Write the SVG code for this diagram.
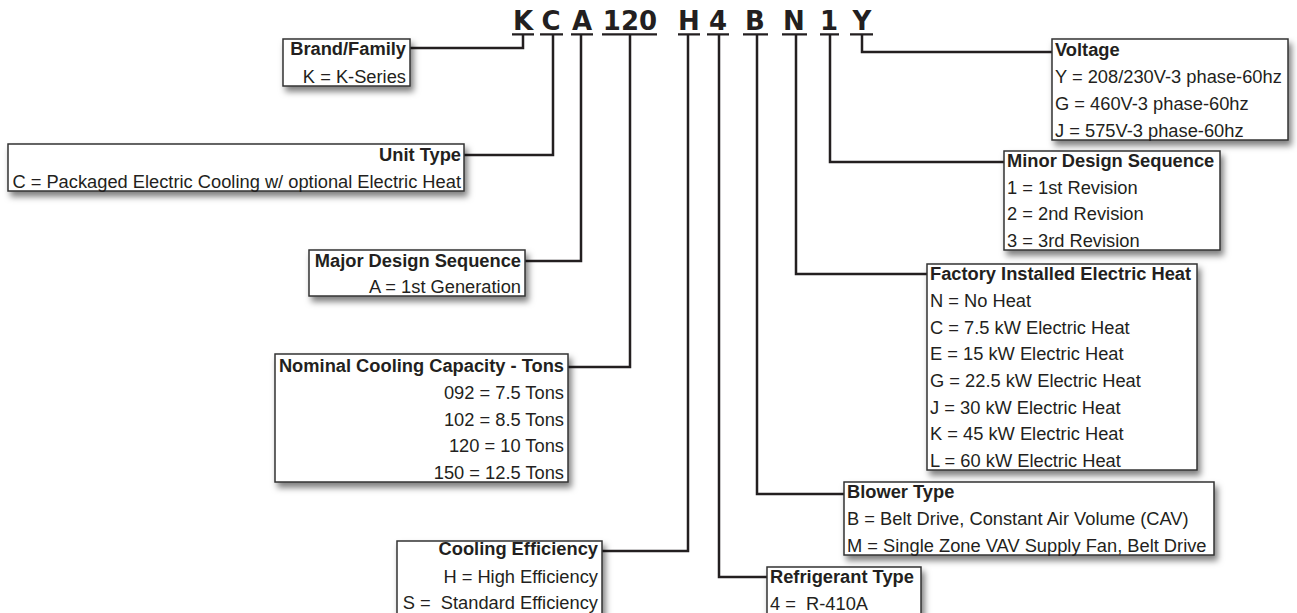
<svg xmlns="http://www.w3.org/2000/svg" width="1297" height="613" viewBox="0 0 1297 613">
<defs>
<filter id="sh" x="-10%" y="-20%" width="130%" height="150%">
<feDropShadow dx="3" dy="5" stdDeviation="3" flood-color="#000" flood-opacity="0.5"/>
</filter>
</defs>
<style>
.box{fill:#fff;stroke:#333;stroke-width:1.5;filter:url(#sh)}
.t{font-family:"Liberation Sans",Arial,sans-serif;font-size:18.3px;fill:#231f20;white-space:pre}
.b{font-weight:bold}
.e{text-anchor:end}
.code{font-family:"DejaVu Sans",sans-serif;font-weight:bold;font-size:26px;fill:#231f20;text-anchor:middle}
.ul{stroke:#231f20;stroke-width:2.2;fill:none}
.c{stroke:#231f20;stroke-width:2.5;fill:none}
</style>
<rect width="1297" height="613" fill="#fff"/>
<g id="code">
<text class="code" x="523" y="30">K</text>
<text class="code" x="551" y="30">C</text>
<text class="code" x="582" y="30">A</text>
<text class="code" x="630" y="30">120</text>
<text class="code" x="689" y="30">H</text>
<text class="code" x="718" y="30">4</text>
<text class="code" x="755" y="30">B</text>
<text class="code" x="794" y="30">N</text>
<text class="code" x="829" y="30">1</text>
<text class="code" x="862" y="30">Y</text>
<path class="ul" d="M512,34.3H534M540,34.3H563M571,34.3H593M602,34.3H657M678,34.3H700M707,34.3H729M743,34.3H768M782,34.3H807M820,34.3H839M850,34.3H873"/>
</g>
<g id="connectors">
<path class="c" d="M523,35V48H410"/>
<path class="c" d="M553,35V155H464"/>
<path class="c" d="M581,35V261H525"/>
<path class="c" d="M630,35V367H568"/>
<path class="c" d="M688,35V551H602"/>
<path class="c" d="M719,35V577H767"/>
<path class="c" d="M757,35V494H844"/>
<path class="c" d="M796,35V274H927"/>
<path class="c" d="M830,35V162H1004"/>
<path class="c" d="M862,35V52H1052"/>
</g>
<g id="brand">
<rect class="box" x="283" y="39" width="127" height="47"/>
<text class="t b e" x="406" y="55">Brand/Family</text>
<text class="t e" x="406" y="82.5">K = K-Series</text>
</g>
<g id="unit-type">
<rect class="box" x="8" y="144" width="456" height="47"/>
<text class="t b e" x="461" y="161">Unit Type</text>
<text class="t e" x="461" y="188">C = Packaged Electric Cooling w/ optional Electric Heat</text>
</g>
<g id="major-design">
<rect class="box" x="309" y="250" width="216" height="46"/>
<text class="t b e" x="521" y="267">Major Design Sequence</text>
<text class="t e" x="521" y="293">A = 1st Generation</text>
</g>
<g id="nominal-capacity">
<rect class="box" x="275" y="354" width="293" height="128"/>
<text class="t b e" x="564" y="372">Nominal Cooling Capacity - Tons</text>
<text class="t e" x="564" y="398.7">092 = 7.5 Tons</text>
<text class="t e" x="564" y="425.5">102 = 8.5 Tons</text>
<text class="t e" x="564" y="452.2">120 = 10 Tons</text>
<text class="t e" x="564" y="479">150 = 12.5 Tons</text>
</g>
<g id="cooling-efficiency">
<rect class="box" x="397" y="541" width="205" height="80"/>
<text class="t b e" x="598" y="555">Cooling Efficiency</text>
<text class="t e" x="598" y="582.5">H = High Efficiency</text>
<text class="t e" x="598" y="609" xml:space="preserve">S =  Standard Efficiency</text>
</g>
<g id="refrigerant">
<rect class="box" x="767" y="567" width="154" height="60"/>
<text class="t b" x="770" y="583">Refrigerant Type</text>
<text class="t" x="770" y="610" xml:space="preserve">4 =  R-410A</text>
</g>
<g id="blower">
<rect class="box" x="844" y="482" width="370" height="73"/>
<text class="t b" x="847" y="498">Blower Type</text>
<text class="t" x="847" y="525">B = Belt Drive, Constant Air Volume (CAV)</text>
<text class="t" x="847" y="552">M = Single Zone VAV Supply Fan, Belt Drive</text>
</g>
<g id="electric-heat">
<rect class="box" x="927" y="264" width="270" height="206"/>
<text class="t b" x="930" y="280">Factory Installed Electric Heat</text>
<text class="t" x="930" y="307">N = No Heat</text>
<text class="t" x="930" y="333.5">C = 7.5 kW Electric Heat</text>
<text class="t" x="930" y="360">E = 15 kW Electric Heat</text>
<text class="t" x="930" y="387">G = 22.5 kW Electric Heat</text>
<text class="t" x="930" y="413.5">J = 30 kW Electric Heat</text>
<text class="t" x="930" y="440">K = 45 kW Electric Heat</text>
<text class="t" x="930" y="467">L = 60 kW Electric Heat</text>
</g>
<g id="minor-design">
<rect class="box" x="1004" y="151" width="216" height="99"/>
<text class="t b" x="1007" y="167">Minor Design Sequence</text>
<text class="t" x="1007" y="193.5">1 = 1st Revision</text>
<text class="t" x="1007" y="220">2 = 2nd Revision</text>
<text class="t" x="1007" y="247">3 = 3rd Revision</text>
</g>
<g id="voltage">
<rect class="box" x="1052" y="39" width="236" height="101"/>
<text class="t b" x="1055" y="56">Voltage</text>
<text class="t" x="1055" y="83">Y = 208/230V-3 phase-60hz</text>
<text class="t" x="1055" y="110">G = 460V-3 phase-60hz</text>
<text class="t" x="1055" y="137">J = 575V-3 phase-60hz</text>
</g>
</svg>
